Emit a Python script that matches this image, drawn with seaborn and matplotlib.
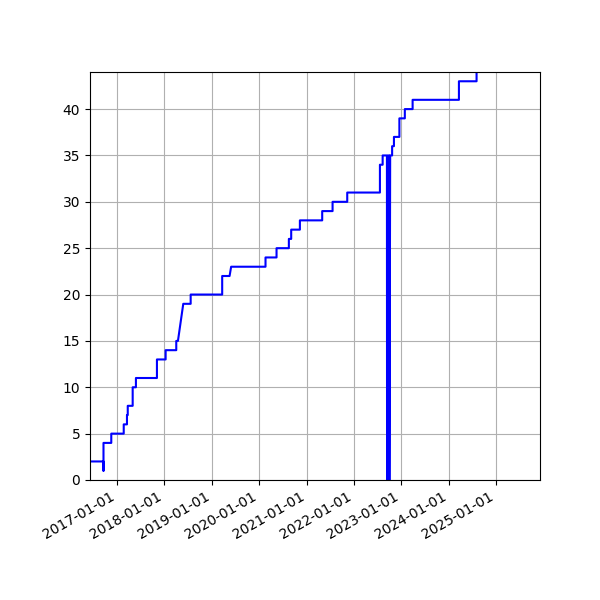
import matplotlib
matplotlib.use("Agg")
import matplotlib.pyplot as plt
import matplotlib.dates as mdates
import seaborn as sns
import pandas as pd

dates = [
    "2016-06-07", "2016-09-19", "2016-09-19", "2016-09-19", "2016-11-18", "2016-11-18",
    "2017-02-22", "2017-02-22", "2017-03-19", "2017-03-19", "2017-03-25", "2017-03-25",
    "2017-05-02", "2017-05-02", "2017-05-27", "2017-05-27", "2017-11-05", "2017-11-05",
    "2018-01-11", "2018-01-11", "2018-04-03", "2018-04-03", "2018-04-16", "2018-05-27",
    "2018-07-23", "2018-07-23", "2019-03-23", "2019-03-23", "2019-05-19", "2019-05-31",
    "2020-02-20", "2020-02-20", "2020-05-15", "2020-05-15", "2020-08-18", "2020-08-18",
    "2020-09-05", "2020-09-05", "2020-11-11", "2020-11-11", "2021-05-02", "2021-05-02",
    "2021-07-21", "2021-07-21", "2021-11-11", "2021-11-11", "2022-07-21", "2022-07-21",
    "2022-08-11", "2022-08-11", "2022-09-13", "2022-09-14", "2022-09-22", "2022-09-23",
    "2022-10-01", "2022-10-02", "2022-10-08", "2022-10-23", "2022-10-23", "2022-11-06",
    "2022-11-06", "2022-12-18", "2022-12-18", "2023-01-29", "2023-01-29", "2023-03-30",
    "2023-03-30", "2024-03-21", "2024-03-21", "2024-08-04", "2024-08-04",
]
counts = [
    2, 2, 1, 4, 4, 5,
    5, 6, 6, 7, 7, 8,
    8, 10, 10, 11, 11, 13,
    13, 14, 14, 15, 15, 19,
    19, 20, 20, 22, 22, 23,
    23, 24, 24, 25, 25, 26,
    26, 27, 27, 28, 28, 29,
    29, 30, 30, 31, 31, 34,
    34, 35, 35, 0, 35, 0,
    35, 0, 35, 35, 36, 36,
    37, 37, 39, 39, 40, 40,
    41, 41, 43, 43, 46,
]
year_ticks = ["2017-01-01", "2018-01-01", "2019-01-01", "2020-01-01", "2021-01-01",
              "2022-01-01", "2023-01-01", "2024-01-01", "2025-01-01"]

df = pd.DataFrame({"date": pd.to_datetime(dates), "count": counts})

fig, ax = plt.subplots(figsize=(6, 6), dpi=100)
sns.lineplot(data=df, x="date", y="count", ax=ax, sort=False, estimator=None,
             color="blue", linewidth=1.5)
ax.set_xlim(pd.Timestamp("2016-06-07"), pd.Timestamp("2025-12-06"))
ax.set_ylim(0, 44)
ax.set_xticks(pd.to_datetime(year_ticks))
ax.xaxis.set_major_formatter(mdates.DateFormatter("%Y-%m-%d"))
ax.set_yticks(range(0, 41, 5))
ax.grid(True, color="#b0b0b0", linewidth=0.8)
ax.set_xlabel("")
ax.set_ylabel("")
fig.autofmt_xdate()
fig.subplots_adjust(left=0.15, right=0.9, bottom=0.2, top=0.88)
fig.savefig("out.png", dpi=100)
